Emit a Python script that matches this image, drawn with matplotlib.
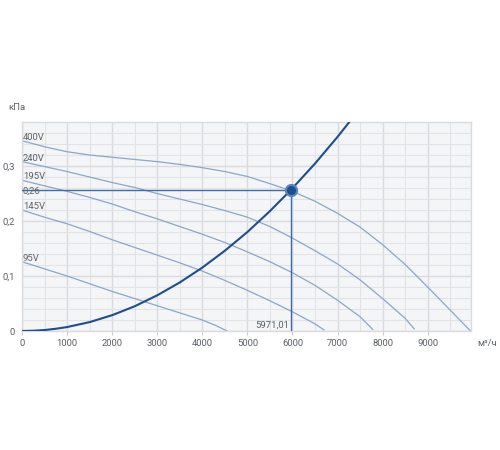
import numpy as np
import matplotlib
matplotlib.use('Agg')
import matplotlib.pyplot as plt
from matplotlib.ticker import MultipleLocator, FuncFormatter

# fan curves: flow (m3/h) -> pressure (kPa)
q_400 = [0, 500, 1000, 1500, 2000, 2500, 3000, 3500, 4000, 4500, 5000, 5500, 6000,
         6500, 7000, 7500, 8000, 8500, 9000, 9500, 9950]
p_400 = [0.346, 0.335, 0.326, 0.320, 0.316, 0.312, 0.308, 0.303, 0.297, 0.290, 0.281, 0.268, 0.254,
         0.236, 0.214, 0.189, 0.157, 0.121, 0.080, 0.038, 0.0]

q_240 = [0, 500, 1000, 1500, 2000, 2500, 3000, 3500, 4000, 4500, 5000, 5500, 6000,
         6500, 7000, 7500, 8000, 8500, 8700]
p_240 = [0.308, 0.299, 0.290, 0.280, 0.270, 0.261, 0.250, 0.240, 0.230, 0.219, 0.207, 0.190, 0.169,
         0.146, 0.122, 0.093, 0.059, 0.023, 0.004]

q_195 = [0, 500, 1000, 1500, 2000, 2500, 3000, 3500, 4000, 4500, 5000, 5500, 6000,
         6500, 7000, 7500, 7780]
p_195 = [0.274, 0.264, 0.254, 0.243, 0.231, 0.217, 0.204, 0.190, 0.176, 0.161, 0.144, 0.126, 0.106,
         0.083, 0.056, 0.026, 0.003]

q_145 = [0, 500, 1000, 1500, 2000, 2500, 3000, 3500, 4000, 4500, 5000, 5500, 6000, 6500, 6700]
p_145 = [0.220, 0.207, 0.195, 0.181, 0.166, 0.152, 0.138, 0.124, 0.109, 0.092, 0.074, 0.055, 0.035, 0.013, 0.002]

q_95 = [0, 500, 1000, 1500, 2000, 2500, 3000, 3500, 4000, 4300, 4550]
p_95 = [0.126, 0.113, 0.100, 0.086, 0.072, 0.059, 0.046, 0.033, 0.020, 0.010, 0.0]

fan_labels = ['400V', '240V', '195V', '145V', '95V']

# system (network) curve
q_sys = [0, 250, 500, 750, 1000, 1500, 2000, 2500, 3000, 3500, 4000, 4500, 5000, 5500, 5971, 6500, 7000, 7300]
p_sys = [0, 0.0005, 0.0018, 0.0041, 0.0072, 0.0162, 0.0288, 0.045, 0.0649, 0.0883, 0.1153, 0.146,
         0.180, 0.218, 0.257, 0.3045, 0.353, 0.384]

# working point
q_work = 5971.01
p_work = 0.257

plt.rcParams['font.family'] = ['Roboto', 'DejaVu Sans']

fig = plt.figure(figsize=(5, 4.5), dpi=100)
ax = fig.add_axes([0.044, 0.2644, 0.897, 0.4644])
ax.set_facecolor('#f3f5f7')

txt = '#5c6168'
fan_col = '#8ba6cb'
dark = '#1d4e8f'
mid = '#3f6ca7'
fs = 6.8

ax.set_xlim(0, 9950)
ax.set_ylim(0, 0.38)

ax.xaxis.set_major_locator(MultipleLocator(1000))
ax.xaxis.set_minor_locator(MultipleLocator(500))
ax.yaxis.set_major_locator(MultipleLocator(0.1))
ax.yaxis.set_minor_locator(MultipleLocator(0.02))
ax.grid(which='major', color='#d9dbdf', lw=1.0, zorder=0)
ax.grid(which='minor', color='#e1e3e6', lw=0.8, zorder=0)
ax.set_axisbelow(True)

ax.yaxis.set_major_formatter(FuncFormatter(lambda v, p: '0' if abs(v) < 1e-9 else ('%.1f' % v).replace('.', ',')))
ax.tick_params(axis='x', which='major', length=3, color='#c8cacd', labelsize=fs, labelcolor=txt, pad=2.5)
ax.tick_params(axis='y', which='major', length=0, labelsize=fs, labelcolor=txt, pad=5)
ax.tick_params(which='minor', length=0)
for s in ax.spines.values():
    s.set_color('#d9dbdf')
    s.set_linewidth(1.0)

fans = [(q_400, p_400), (q_240, p_240), (q_195, p_195), (q_145, p_145), (q_95, p_95)]
for (q, p), lab in zip(fans, fan_labels):
    ax.plot(q, p, color=fan_col, lw=0.9, zorder=2, solid_joinstyle='round')
    ax.text(20, p[0] + 0.0065, lab, fontsize=fs, color=txt, ha='left', va='center', zorder=5)

# working point lines
ax.plot([0, q_work], [p_work, p_work], color=mid, lw=1.0, zorder=3)
ax.plot([q_work, q_work], [0, p_work], color=mid, lw=1.0, zorder=3)

ax.plot(q_sys, p_sys, color=dark, lw=1.5, zorder=4, solid_joinstyle='round')
ax.plot([q_work], [p_work], 'o', ms=8, mfc=dark, mec='#5b83b9', mew=1.5, zorder=6)

ax.text(20, p_work - 0.003, '0,26', fontsize=fs, color=txt, ha='left', va='center', zorder=5)
ax.text(q_work - 40, 0.002, '5971,01', fontsize=fs, color=txt, ha='right', va='bottom', zorder=5)

fig.text(0.016, 0.76, 'кПа', fontsize=fs, color=txt, ha='left', va='center')
fig.text(0.955, 0.237, 'м³/ч', fontsize=fs, color=txt, ha='left', va='center')

fig.savefig('out.png', dpi=100)
